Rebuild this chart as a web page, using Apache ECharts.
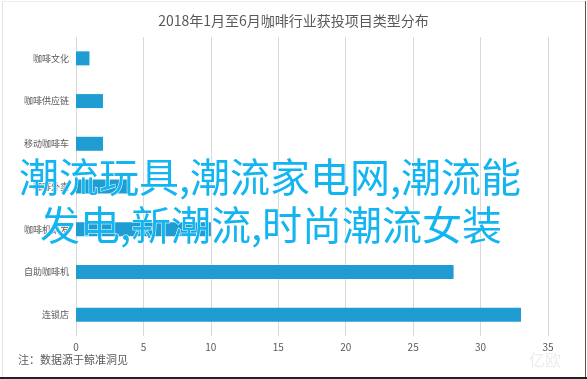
<!DOCTYPE html>
<html><head><meta charset="utf-8">
<script src="https://cdn.jsdelivr.net/npm/echarts@6/dist/echarts.min.js"></script>
<style>html,body{margin:0;padding:0;background:#fff}#c{width:587px;height:379px}</style>
</head><body><div id="c"></div>
<script>
var titleText = '2018年1月至6月咖啡行业获投项目类型分布';
var categories = ['咖啡文化', '咖啡供应链', '移动咖啡车', '咖啡外卖', '咖啡机研发', '自助咖啡机', '连锁店'];
var values = [1, 2, 2, 4, 10, 28, 33];
var xTicks = [0, 5, 10, 15, 20, 25, 30, 35];
var overlayLine1 = '潮流玩具,潮流家电网,潮流能';
var overlayLine2 = '发电,新潮流,时尚潮流女装';
var noteText = '注：数据源于鲸准洞见';

var font = '"Noto Sans CJK SC", "Noto Sans", sans-serif';
var chart = echarts.init(document.getElementById('c'), null, {renderer: 'canvas'});
chart.setOption({
  animation: false,
  backgroundColor: '#fff',
  title: {
    text: titleText, left: 'center', top: 9,
    textStyle: {fontSize: 14, fontWeight: 'normal', color: '#595959', fontFamily: font}
  },
  grid: {left: 76, right: 39, top: 37, bottom: 43, containLabel: false},
  xAxis: {
    type: 'value', min: xTicks[0], max: xTicks[xTicks.length - 1], interval: 5,
    axisLine: {show: false}, axisTick: {show: false},
    splitLine: {lineStyle: {color: '#d9d9d9', width: 1}},
    axisLabel: {color: '#595959', fontSize: 10, margin: 6, fontFamily: font}
  },
  yAxis: {
    type: 'category', data: categories, inverse: true,
    axisLine: {show: false}, axisTick: {show: false},
    axisLabel: {color: '#595959', fontSize: 9, margin: 7, fontFamily: font}
  },
  series: [{
    type: 'bar', data: values, barWidth: 14,
    itemStyle: {color: '#1f9dd3'}
  }],
  graphic: [
    {type: 'text', left: 18, top: 354, style: {text: noteText, fill: '#595959', font: '11px ' + font}},
    {type: 'text', x: 270, y: 177, z: 100, style: {text: overlayLine1, fill: '#13b5f0', font: '40px ' + font, align: 'center', verticalAlign: 'middle', stroke: '#ffffff', lineWidth: 1}},
    {type: 'text', x: 271, y: 225, z: 100, style: {text: overlayLine2, fill: '#13b5f0', font: '40px ' + font, align: 'center', verticalAlign: 'middle', stroke: '#ffffff', lineWidth: 1}},
    {type: 'text', x: 545, y: 360, z: 90, style: {text: '亿欧', fill: 'rgba(200,200,200,0.35)', font: '16px ' + font, align: 'center', verticalAlign: 'middle'}},
    {type: 'line', shape: {x1: 2.5, y1: 1, x2: 2.5, y2: 377}, style: {stroke: '#e3e3e3', lineWidth: 1}},
    {type: 'line', shape: {x1: 2, y1: 1.5, x2: 585, y2: 1.5}, style: {stroke: '#eeeeee', lineWidth: 1}},
    {type: 'line', shape: {x1: 585.5, y1: 1, x2: 585.5, y2: 378}, style: {stroke: '#555555', lineWidth: 1}},
    {type: 'line', shape: {x1: 0, y1: 378, x2: 587, y2: 378}, style: {stroke: '#222222', lineWidth: 2}}
  ]
});
</script></body></html>
